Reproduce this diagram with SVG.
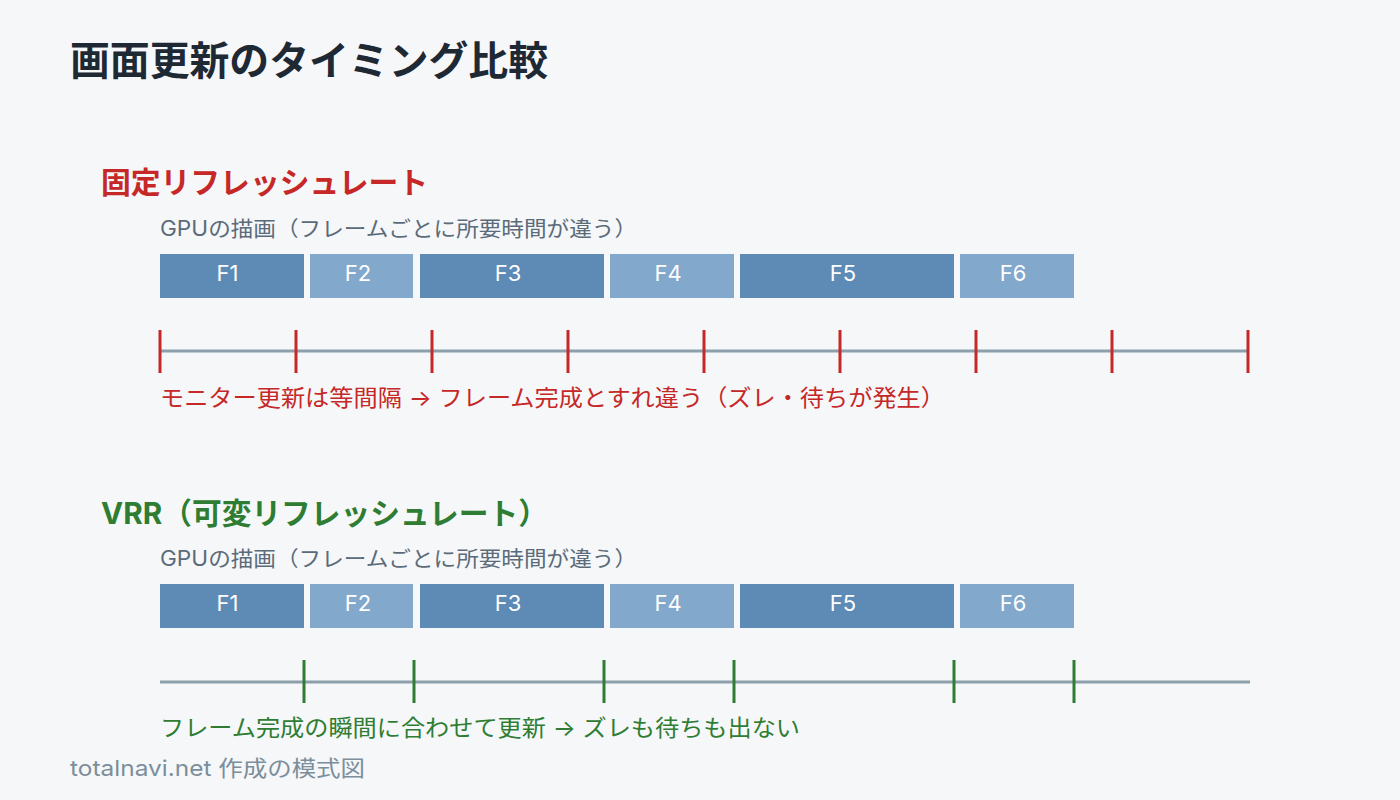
<svg xmlns="http://www.w3.org/2000/svg" width="1400" height="800" viewBox="0 0 1400 800">
<style>
text{font-family:Inter,"Noto Sans CJK JP",sans-serif}
.title{font-size:40px;font-weight:700;fill:#1e2934}
.hred{font-size:30px;font-weight:700;fill:#c62828}
.hgreen{font-size:30px;font-weight:700;fill:#2e7d32}
.sub{font-size:21px;fill:#5b6b7a}
.cred{font-size:23px;fill:#c62828}
.cgreen{font-size:23px;fill:#2e7d32}
.foot{font-size:22px;fill:#7b8e9b}
.lbl{font-size:22px;fill:#ffffff;text-anchor:middle}
.dark{fill:#5d8bb5}
.light{fill:#82a8cb}
.axis{stroke:#8e9fac;stroke-width:3}
.tr{stroke:#c62828;stroke-width:3}
.tg{stroke:#2e7d32;stroke-width:3}
</style>
<rect width="1400" height="800" fill="#f5f7f9"/>
<text class="title" x="70" y="75" textLength="478" lengthAdjust="spacingAndGlyphs">画面更新のタイミング比較</text>

<g id="fixed">
<text class="hred" x="101" y="193" textLength="327" lengthAdjust="spacingAndGlyphs">固定リフレッシュレート</text>
<text class="sub" x="160" y="236" textLength="477" lengthAdjust="spacingAndGlyphs">GPUの描画（フレームごとに所要時間が違う）</text>
<g id="fixed-frames">
<g id="f-F1"><rect class="dark" x="160" y="254" width="144" height="44"/><text class="lbl" x="227.5" y="281">F1</text></g>
<g id="f-F2"><rect class="light" x="310" y="254" width="103" height="44"/><text class="lbl" x="358" y="281">F2</text></g>
<g id="f-F3"><rect class="dark" x="420" y="254" width="184" height="44"/><text class="lbl" x="508" y="281">F3</text></g>
<g id="f-F4"><rect class="light" x="610" y="254" width="124" height="44"/><text class="lbl" x="668" y="281">F4</text></g>
<g id="f-F5"><rect class="dark" x="740" y="254" width="214" height="44"/><text class="lbl" x="843" y="281">F5</text></g>
<g id="f-F6"><rect class="light" x="960" y="254" width="114" height="44"/><text class="lbl" x="1013" y="281">F6</text></g>
</g>
<g id="fixed-timeline">
<line class="axis" x1="160" y1="351" x2="1248" y2="351"/>
<g class="tr">
<line x1="160" y1="330" x2="160" y2="373"/>
<line x1="296" y1="330" x2="296" y2="373"/>
<line x1="432" y1="330" x2="432" y2="373"/>
<line x1="568" y1="330" x2="568" y2="373"/>
<line x1="704" y1="330" x2="704" y2="373"/>
<line x1="840" y1="330" x2="840" y2="373"/>
<line x1="976" y1="330" x2="976" y2="373"/>
<line x1="1112" y1="330" x2="1112" y2="373"/>
<line x1="1248" y1="330" x2="1248" y2="373"/>
</g>
</g>
<text class="cred" x="160" y="406" textLength="785" lengthAdjust="spacingAndGlyphs">モニター更新は等間隔 → フレーム完成とすれ違う（ズレ・待ちが発生）</text>
</g>

<g id="vrr">
<text class="hgreen" x="101" y="524" textLength="447" lengthAdjust="spacingAndGlyphs">VRR（可変リフレッシュレート）</text>
<text class="sub" x="160" y="566" textLength="477" lengthAdjust="spacingAndGlyphs">GPUの描画（フレームごとに所要時間が違う）</text>
<g id="vrr-frames">
<g id="v-F1"><rect class="dark" x="160" y="584" width="144" height="44"/><text class="lbl" x="227.5" y="611">F1</text></g>
<g id="v-F2"><rect class="light" x="310" y="584" width="103" height="44"/><text class="lbl" x="358" y="611">F2</text></g>
<g id="v-F3"><rect class="dark" x="420" y="584" width="184" height="44"/><text class="lbl" x="508" y="611">F3</text></g>
<g id="v-F4"><rect class="light" x="610" y="584" width="124" height="44"/><text class="lbl" x="668" y="611">F4</text></g>
<g id="v-F5"><rect class="dark" x="740" y="584" width="214" height="44"/><text class="lbl" x="843" y="611">F5</text></g>
<g id="v-F6"><rect class="light" x="960" y="584" width="114" height="44"/><text class="lbl" x="1013" y="611">F6</text></g>
</g>
<g id="vrr-timeline">
<line class="axis" x1="160" y1="682" x2="1250" y2="682"/>
<g class="tg">
<line x1="304" y1="660" x2="304" y2="703"/>
<line x1="414" y1="660" x2="414" y2="703"/>
<line x1="604" y1="660" x2="604" y2="703"/>
<line x1="734" y1="660" x2="734" y2="703"/>
<line x1="954" y1="660" x2="954" y2="703"/>
<line x1="1074" y1="660" x2="1074" y2="703"/>
</g>
</g>
<text class="cgreen" x="160" y="736" textLength="640" lengthAdjust="spacingAndGlyphs">フレーム完成の瞬間に合わせて更新 → ズレも待ちも出ない</text>
</g>

<text class="foot" x="70" y="776" textLength="295" lengthAdjust="spacingAndGlyphs">totalnavi.net 作成の模式図</text>
</svg>
